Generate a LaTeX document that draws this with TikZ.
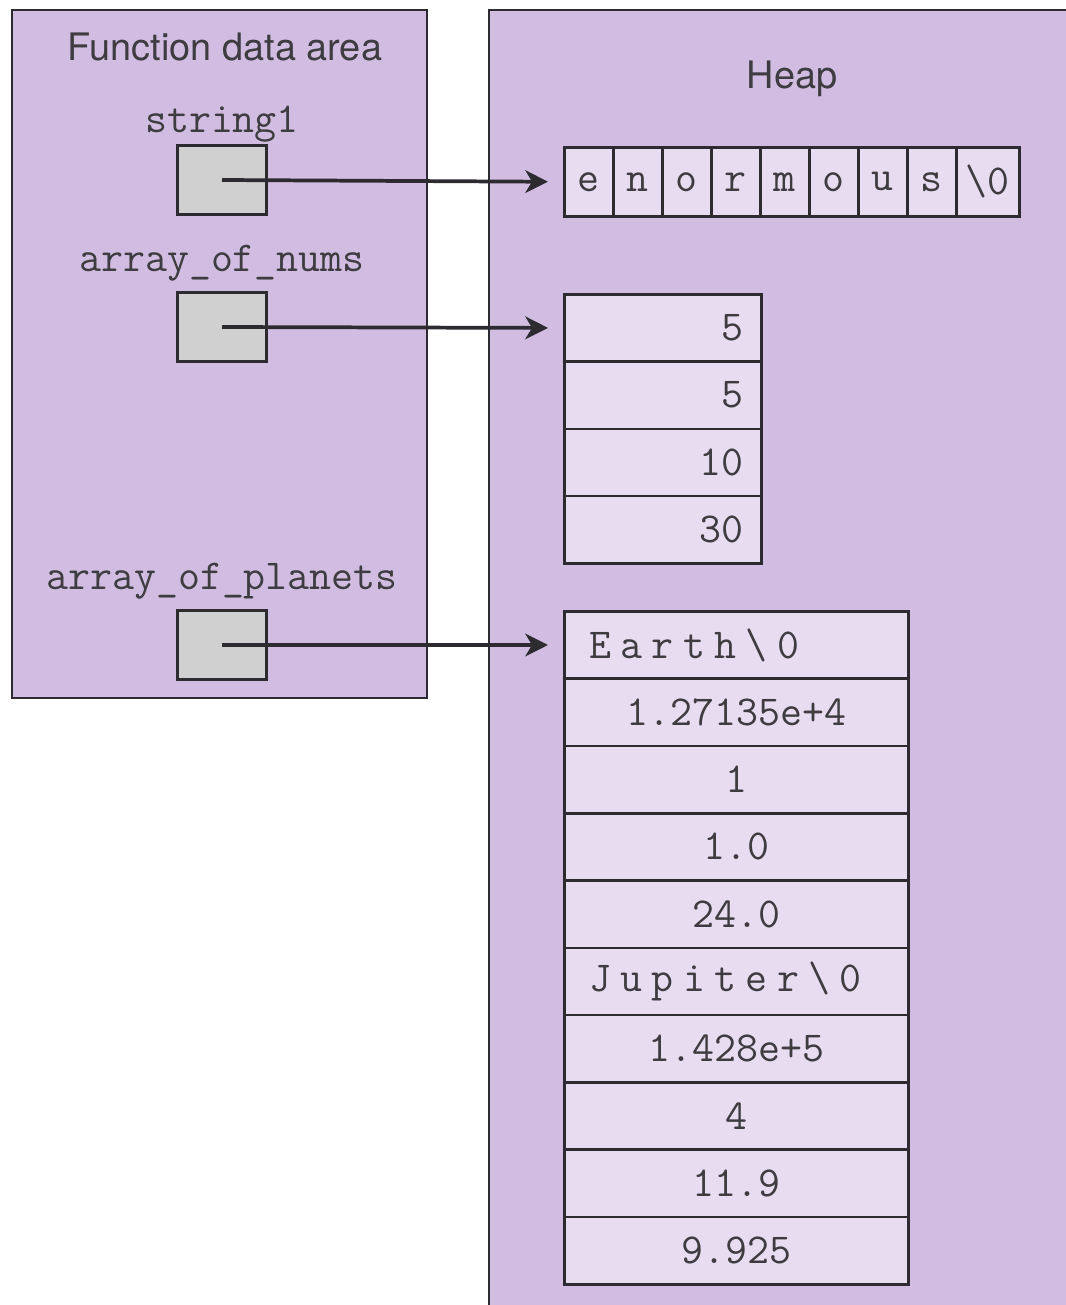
\documentclass[tikz,border=0pt]{standalone}
\usepackage{fontspec}
\newfontfamily\memsans{TeX Gyre Heros}
\usetikzlibrary{calc,arrows.meta}

\definecolor{memarea}{RGB}{210,189,226}
\definecolor{memcell}{RGB}{232,220,241}
\definecolor{memptr}{RGB}{208,208,208}
\definecolor{memline}{RGB}{45,42,48}
\definecolor{memtext}{RGB}{62,60,64}

\newcommand\memls{\hspace{7pt}}

\tikzset{
  memarea/.style={draw=memline,fill=memarea,line width=2pt},
  memlabel/.style={font=\fontsize{32pt}{36pt}\selectfont\ttfamily,text=memtext,inner sep=0pt},
  memtitle/.style={font=\fontsize{28.4pt}{32pt}\selectfont\memsans,text=memtext,inner sep=0pt},
  ptrbox/.style={draw=memline,fill=memptr,line width=2pt,inner sep=0pt,
    minimum width=66.75pt,minimum height=51.75pt},
  memcell/.style={draw=memline,fill=memcell,line width=2pt,anchor=north west,
    font=\fontsize{32pt}{36pt}\selectfont\ttfamily,text=memtext,inner ysep=0pt},
  charcell/.style={memcell,inner xsep=0pt,minimum width=36.75pt,minimum height=51.75pt},
  numcell/.style={memcell,inner xsep=13.5pt,text width=120.75pt,align=right,minimum height=50.44pt},
  plcell/.style={memcell,inner xsep=18.75pt,text width=220.5pt,minimum height=50.48pt},
  ptrarrow/.style={draw=memline,line width=2.8pt,shorten >=11.25pt,
    -{Stealth[length=17pt,width=17pt,inset=5pt]}}
}

\begin{document}
\begin{tikzpicture}[x=0.75pt,y=-0.75pt]
\useasboundingbox (0,0) rectangle (1066,1305);

\def\memrowh{67.3}
\def\memnumh{67.25}

% heap
\begin{scope}
\path[clip] (0,0) rectangle (1066,1305);
\draw[memarea] (489,10) rectangle (1100,1340);
\end{scope}
\node[memtitle] (heaplbl) at (792,79) {Heap};

% function data area
\draw[memarea] (12,10) rectangle (427,698);
\node[memtitle] (title) at (225,47) {Function data area};

\node[memlabel] (lblstr) at (222,124) {string1};
\node[ptrbox] (pstr) at (222,180) {};

\node[memlabel] (lblnums) at (222,263) {array\_of\_nums};
\node[ptrbox] (pnums) at (222,327) {};

\node[memlabel] (lblplan) at (222,581) {array\_of\_planets};
\node[ptrbox] (pplan) at (222,645) {};

% the string
\foreach \ch [count=\i] in {e,n,o,r,m,o,u,s}
  \node[charcell] (ch-\i) at ({563+(\i-1)*49},146) {\ch};
\node[charcell,minimum width=47.25pt] (ch-9) at (955,146) {\textbackslash 0};

% the numbers
\foreach \v [count=\i] in {5,5,10,30}
  \node[numcell] (num-\i) at (563,{293+(\i-1)*\memnumh}) {\v};

% the planets
\node[plcell,align=left] (pl-1) at (563,610)
  {E\memls a\memls r\memls t\memls h\memls\textbackslash\memls 0};
\node[plcell,align=left] (pl-6) at (563,{610+5*\memrowh})
  {J\memls u\memls p\memls i\memls t\memls e\memls r\memls\textbackslash\memls 0};
\foreach \r/\v in {2/1.27135e+4,3/1,4/1.0,5/24.0,7/1.428e+5,8/4,9/11.9,10/9.925}
  \node[plcell,align=center] (pl-\r) at (563,{610+(\r-1)*\memrowh}) {\v};

% pointers
\draw[ptrarrow] (pstr.center) -- (ch-1.west);
\draw[ptrarrow] (pnums.center) -- (num-1.west);
\draw[ptrarrow] (pplan.center) -- (pl-1.west);

\end{tikzpicture}
\end{document}
